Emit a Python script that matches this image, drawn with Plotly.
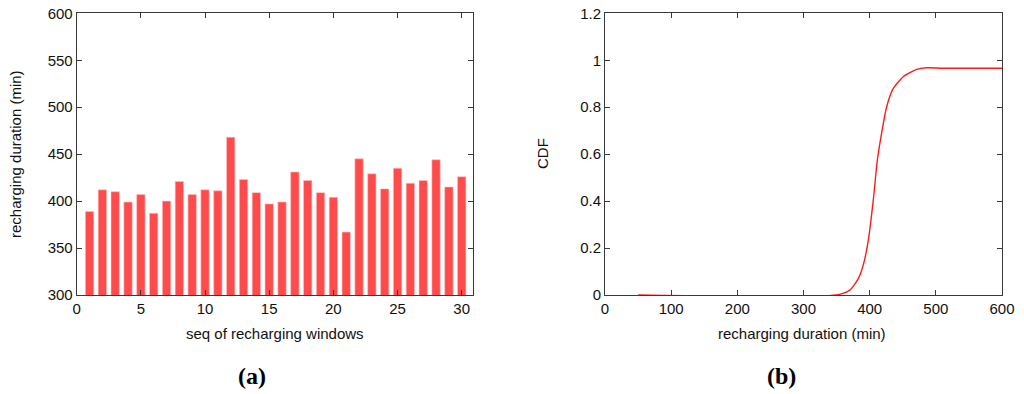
import plotly.graph_objects as go

# ---- data ----
seq = list(range(1, 31))
durations = [389, 412, 410, 399, 407, 387, 400, 421, 407, 412,
             411, 468, 423, 409, 397, 399, 431, 422, 409, 404,
             367, 445, 429, 413, 435, 419, 422, 444, 415, 426]

cdf_x = [50, 350, 370, 383, 391, 398, 405.5, 411.6, 418, 425.7, 435.7, 450.8, 471, 486, 511, 600]
cdf_y = [0, 0, 0.021, 0.071, 0.135, 0.234, 0.405, 0.575, 0.689, 0.802, 0.88, 0.93, 0.961, 0.968, 0.966, 0.966]

W, H = 1024, 394
def px(x): return x / W
def py(y): return 1 - y / H

fig = go.Figure()
fig.add_trace(go.Bar(x=seq, y=durations, width=0.65,
                     marker=dict(color="#ff4b4b", line=dict(color="#ffc0c0", width=0.6)),
                     xaxis="x", yaxis="y", showlegend=False))
fig.add_trace(go.Scatter(x=cdf_x, y=cdf_y, mode="lines",
                         line=dict(color="#ff1a1a", width=1.4, shape="spline", smoothing=0.6),
                         xaxis="x2", yaxis="y2", showlegend=False, cliponaxis=True))

FONT = "Liberation Sans, Arial, sans-serif"
FS = 15
axcommon = dict(showgrid=False, zeroline=False, showline=True, linecolor="#3a3a3a", linewidth=1,
                mirror="ticks", ticks="inside", ticklen=5, tickcolor="#3a3a3a",
                tickfont=dict(family=FONT, size=FS, color="#111"), automargin=False,
                layer="above traces")

fig.update_layout(
    width=W, height=H, margin=dict(l=0, r=0, t=0, b=0),
    paper_bgcolor="white", plot_bgcolor="white",
    xaxis=dict(axcommon, domain=[px(76.7), px(473)], range=[0, 30.88], tickvals=[0, 5, 10, 15, 20, 25, 30],
               anchor="y"),
    yaxis=dict(axcommon, domain=[py(295), py(13.3)], range=[300, 600], tickvals=[300, 350, 400, 450, 500, 550, 600],
               anchor="x"),
    xaxis2=dict(axcommon, domain=[px(605), px(1002)], range=[0, 600], tickvals=[0, 100, 200, 300, 400, 500, 600],
                anchor="y2"),
    yaxis2=dict(axcommon, domain=[py(295), py(13.3)], range=[0, 1.2], tickvals=[0, 0.2, 0.4, 0.6, 0.8, 1, 1.2],
                anchor="x2"),
    annotations=[
        dict(text="seq of recharging windows", x=px(275), y=py(333), xref="paper", yref="paper",
             showarrow=False, font=dict(family=FONT, size=FS, color="#111"), xanchor="center", yanchor="middle"),
        dict(text="recharging duration (min)", x=px(802), y=py(333), xref="paper", yref="paper",
             showarrow=False, font=dict(family=FONT, size=FS, color="#111"), xanchor="center", yanchor="middle"),
        dict(text="recharging duration (min)", x=px(16), y=py(154), xref="paper", yref="paper", textangle=-90,
             showarrow=False, font=dict(family=FONT, size=FS, color="#111"), xanchor="center", yanchor="middle"),
        dict(text="CDF", x=px(543), y=py(154), xref="paper", yref="paper", textangle=-90,
             showarrow=False, font=dict(family=FONT, size=FS, color="#111"), xanchor="center", yanchor="middle"),
        dict(text="<b>(a)</b>", x=px(251.7), y=py(376), xref="paper", yref="paper",
             showarrow=False, font=dict(family="Liberation Serif, Times New Roman, serif", size=24, color="#000"),
             xanchor="center", yanchor="middle"),
        dict(text="<b>(b)</b>", x=px(781), y=py(376), xref="paper", yref="paper",
             showarrow=False, font=dict(family="Liberation Serif, Times New Roman, serif", size=24, color="#000"),
             xanchor="center", yanchor="middle"),
    ],
)

fig.write_html("out.html", config={"displayModeBar": False},
               post_script="document.body.style.margin='0';document.body.style.overflow='hidden';")
